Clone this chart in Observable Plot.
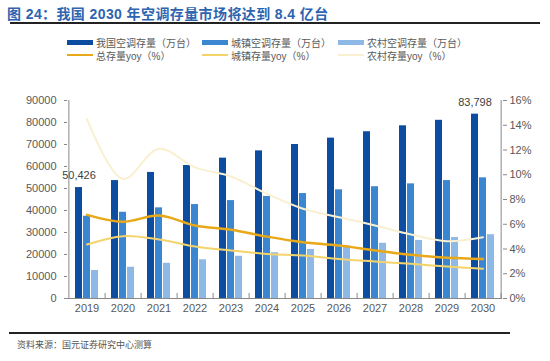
<!DOCTYPE html>
<html>
<head>
<meta charset="utf-8">
<script src="https://cdn.jsdelivr.net/npm/d3@7"></script>
<script src="https://cdn.jsdelivr.net/npm/@observablehq/plot@0.6"></script>
<style>
  html, body { margin: 0; padding: 0; background: #fff; }
  body { width: 550px; height: 361px; position: relative; overflow: hidden;
         font-family: "Liberation Sans", "Noto Sans CJK SC", sans-serif; }
  #title { position: absolute; left: 7px; top: 3px; font-size: 14px; font-weight: bold; color: #2E64B0;
           font-family: "Liberation Sans", "Noto Sans CJK SC", sans-serif; white-space: nowrap; letter-spacing: 0.4px; }
  #titleLine { position: absolute; left: 10px; top: 22px; width: 530px; height: 2px; background: #222; }
  .leg { position: absolute; font-size: 10px; color: #595959; white-space: nowrap; display: flex; align-items: center; }
  .sw { display: inline-block; width: 26px; margin-right: 3px; }
  #chart { position: absolute; left: 0; top: 70px; }
  #capLine { position: absolute; left: 9px; top: 332px; width: 501px; height: 1.5px; background: #222; }
  #caption { position: absolute; left: 17px; top: 338px; font-size: 9px; color: #555; white-space: nowrap; }
</style>
</head>
<body>
<div id="title">图 24：我国 2030 年空调存量市场将达到 8.4 亿台</div>
<div id="titleLine"></div>
<div id="legend"></div>
<div id="chart"></div>
<div id="capLine"></div>
<div id="caption">资料来源：国元证券研究中心测算</div>
<script>
const years = [2019, 2020, 2021, 2022, 2023, 2024, 2025, 2026, 2027, 2028, 2029, 2030];
const totalStock = [50426, 53600, 57300, 60450, 63800, 67100, 70000, 72900, 75800, 78500, 81000, 83798];
const urbanStock = [37400, 39200, 41200, 42700, 44500, 46400, 47700, 49400, 50800, 52100, 53600, 54850];
const ruralStock = [12700, 14200, 16000, 17600, 19200, 20800, 22300, 23800, 25100, 26400, 27700, 29000];
const totalYoy = [6.76, 6.2, 6.7, 5.9, 5.55, 5.0, 4.55, 4.28, 3.88, 3.53, 3.29, 3.2];
const urbanYoy = [4.36, 5.04, 4.77, 4.2, 3.88, 3.6, 3.47, 3.2, 2.99, 2.8, 2.59, 2.4];
const ruralYoy = [14.5, 9.67, 12.1, 10.6, 9.86, 8.46, 7.25, 6.57, 5.9, 5.17, 4.63, 4.95];
const leftTicks = [0, 10000, 20000, 30000, 40000, 50000, 60000, 70000, 80000, 90000];
const rightTicks = [0, 2, 4, 6, 8, 10, 12, 14, 16];
const seriesNames = ["我国空调存量（万台）", "城镇空调存量（万台）", "农村空调存量（万台）",
                     "总存量yoy（%）", "城镇存量yoy（%）", "农村存量yoy（%）"];

const C = { total: "#0C4DA2", urban: "#3A86D0", rural: "#8EB8E5",
            tYoy: "#E8A817", uYoy: "#F4D46A", rYoy: "#FAEFD0" };
const swatchColors = [C.total, C.urban, C.rural, C.tYoy, C.uYoy, C.rYoy];

const yMax = 90000, pMax = 16, k = yMax / pMax;
const data = years.map((year, i) => ({
  year, total: totalStock[i], urban: urbanStock[i], rural: ruralStock[i],
  tYoy: totalYoy[i], uYoy: urbanYoy[i], rYoy: ruralYoy[i]
}));

// legend
const legend = document.getElementById("legend");
const legX = [67, 202, 338];
seriesNames.forEach((name, i) => {
  const row = Math.floor(i / 3), col = i % 3;
  const el = document.createElement("div");
  el.className = "leg";
  el.style.left = legX[col] + "px";
  el.style.top = (row === 0 ? 35 : 48) + "px";
  el.style.height = "14px";
  const sw = document.createElement("span");
  sw.className = "sw";
  sw.style.height = row === 0 ? "5px" : "2px";
  sw.style.background = swatchColors[i];
  el.appendChild(sw);
  el.appendChild(document.createTextNode(name));
  legend.appendChild(el);
});

const fmt = d3.format(",");
const half = 18.125;
const chart = Plot.plot({
  width: 550, height: 255,
  marginTop: 30, marginBottom: 27, marginLeft: 67, marginRight: 48,
  style: { fontFamily: "'Liberation Sans', 'Noto Sans CJK SC', sans-serif", fontSize: "11px", color: "#595959", background: "transparent" },
  x: { type: "band", domain: years, paddingInner: 0.807, paddingOuter: 0.4035, label: null },
  y: { domain: [0, yMax], label: null },
  marks: [
    Plot.barY(data, { x: "year", y: "total", dx: -8, fill: C.total }),
    Plot.barY(data, { x: "year", y: "urban", fill: C.urban }),
    Plot.barY(data, { x: "year", y: "rural", dx: 8, fill: C.rural }),
    Plot.line(data, { x: "year", y: d => d.rYoy * k, curve: "catmull-rom", stroke: C.rYoy, strokeWidth: 2 }),
    Plot.line(data, { x: "year", y: d => d.uYoy * k, curve: "catmull-rom", stroke: C.uYoy, strokeWidth: 2 }),
    Plot.line(data, { x: "year", y: d => d.tYoy * k, curve: "catmull-rom", stroke: C.tYoy, strokeWidth: 2.5 }),
    Plot.text([data[0], data[data.length - 1]], { x: "year", y: "total", dx: -8, dy: -12, text: d => fmt(d.total), fill: "#404040", fontSize: 11 }),
    Plot.ruleY([0], { stroke: "#888" }),
    Plot.ruleX([years[0]], { dx: -half, stroke: "#888" }),
    Plot.ruleX([years[years.length - 1]], { dx: half, stroke: "#888" }),
    Plot.axisY(leftTicks, { anchor: "left", tickSize: 3, tickPadding: 8, tickFormat: d3.format("d"), stroke: "#888", fill: "#595959" }),
    Plot.axisY(rightTicks.map(p => p * k), { anchor: "right", tickSize: 4, tickPadding: 3, tickFormat: d => Math.round(d / k) + "%", stroke: "#888", fill: "#595959" }),
    Plot.axisX({ anchor: "bottom", tickSize: 0, tickPadding: 6, tickFormat: d => String(d), fill: "#595959" }),
    Plot.axisX({ anchor: "bottom", tickSize: -5, tickFormat: () => "", dx: half, stroke: "#888" })
  ]
});
document.getElementById("chart").appendChild(chart);
</script>
</body>
</html>
